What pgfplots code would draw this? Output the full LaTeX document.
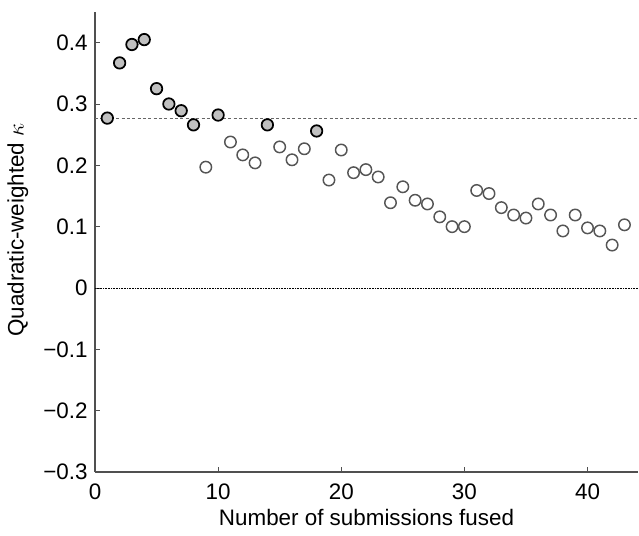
\documentclass[border=0pt]{standalone}
\usepackage{fontspec}
\setmainfont{Liberation Sans}
\usepackage{pgfplots}
\pgfplotsset{compat=1.18}
\definecolor{markfill}{RGB}{192,192,192}
\definecolor{opengray}{RGB}{85,85,85}
\definecolor{axisgray}{RGB}{80,80,80}

\pgfplotstableread{
x y
1 0.277
2 0.367
3 0.397
4 0.405
5 0.325
6 0.300
7 0.289
8 0.266
10 0.282
14 0.266
18 0.256
}\filledpts

\pgfplotstableread{
x y
9 0.197
11 0.238
12 0.217
13 0.204
15 0.230
16 0.209
17 0.227
19 0.176
20 0.225
21 0.188
22 0.193
23 0.181
24 0.139
25 0.165
26 0.143
27 0.137
28 0.116
29 0.100
30 0.100
31 0.159
32 0.154
33 0.131
34 0.119
35 0.114
36 0.137
37 0.119
38 0.093
39 0.119
40 0.098
41 0.093
42 0.070
43 0.103
}\openpts

\begin{document}
\begin{tikzpicture}
\begin{axis}[
  scale only axis,
  width=407.25pt, height=345pt,
  xmin=0, xmax=44.1,
  ymin=-0.3, ymax=0.45,
  xtick={0,10,20,30,40},
  ytick={-0.3,-0.2,-0.1,0,0.1,0.2,0.3,0.4},
  yticklabels={−0.3,−0.2,−0.1,0,0.1,0.2,0.3,0.4},
  /pgf/number format/assume math mode=true,
  axis x line*=bottom, axis y line*=left,
  axis line style={axisgray, line width=0.8pt},
  tick style={axisgray, line width=0.6pt},
  tick align=inside,
  major tick length=3.75pt,
  font=\fontsize{16.8}{19}\selectfont,
  xlabel={Number of submissions fused},
  ylabel={Quadratic-weighted $\kappa$},
  xlabel style={at={(axis description cs:0.5,-0.098)}, anchor=center},
  ylabel style={at={(axis description cs:-0.142,0.526)}, anchor=center},
  xticklabel style={yshift=-5pt},
  yticklabel style={xshift=-2pt},
  clip=false,
]
\addplot[gray!80!black, dash pattern=on 2.2pt off 1.8pt, line width=0.6pt, forget plot] coordinates {(0,0.277) (44.1,0.277)};
\addplot[black, dash pattern=on 0.6pt off 0.6pt, line width=0.5pt, forget plot] coordinates {(0,0) (44.1,0)};
\addplot[only marks, mark=o, mark size=4.3pt,
  mark options={draw=opengray, line width=1.1pt}] table {\openpts};
\addplot[only marks, mark=*, mark size=4.3pt,
  mark options={fill=markfill, draw=black, line width=1.3pt}] table {\filledpts};
\coordinate (bl) at (rel axis cs:0,0);
\coordinate (tr) at (rel axis cs:1,1);
\end{axis}
\pgfresetboundingbox
\path ([xshift=-71.25pt,yshift=-48pt]bl) rectangle ([xshift=0.75pt,yshift=9pt]tr);
\end{tikzpicture}
\end{document}
